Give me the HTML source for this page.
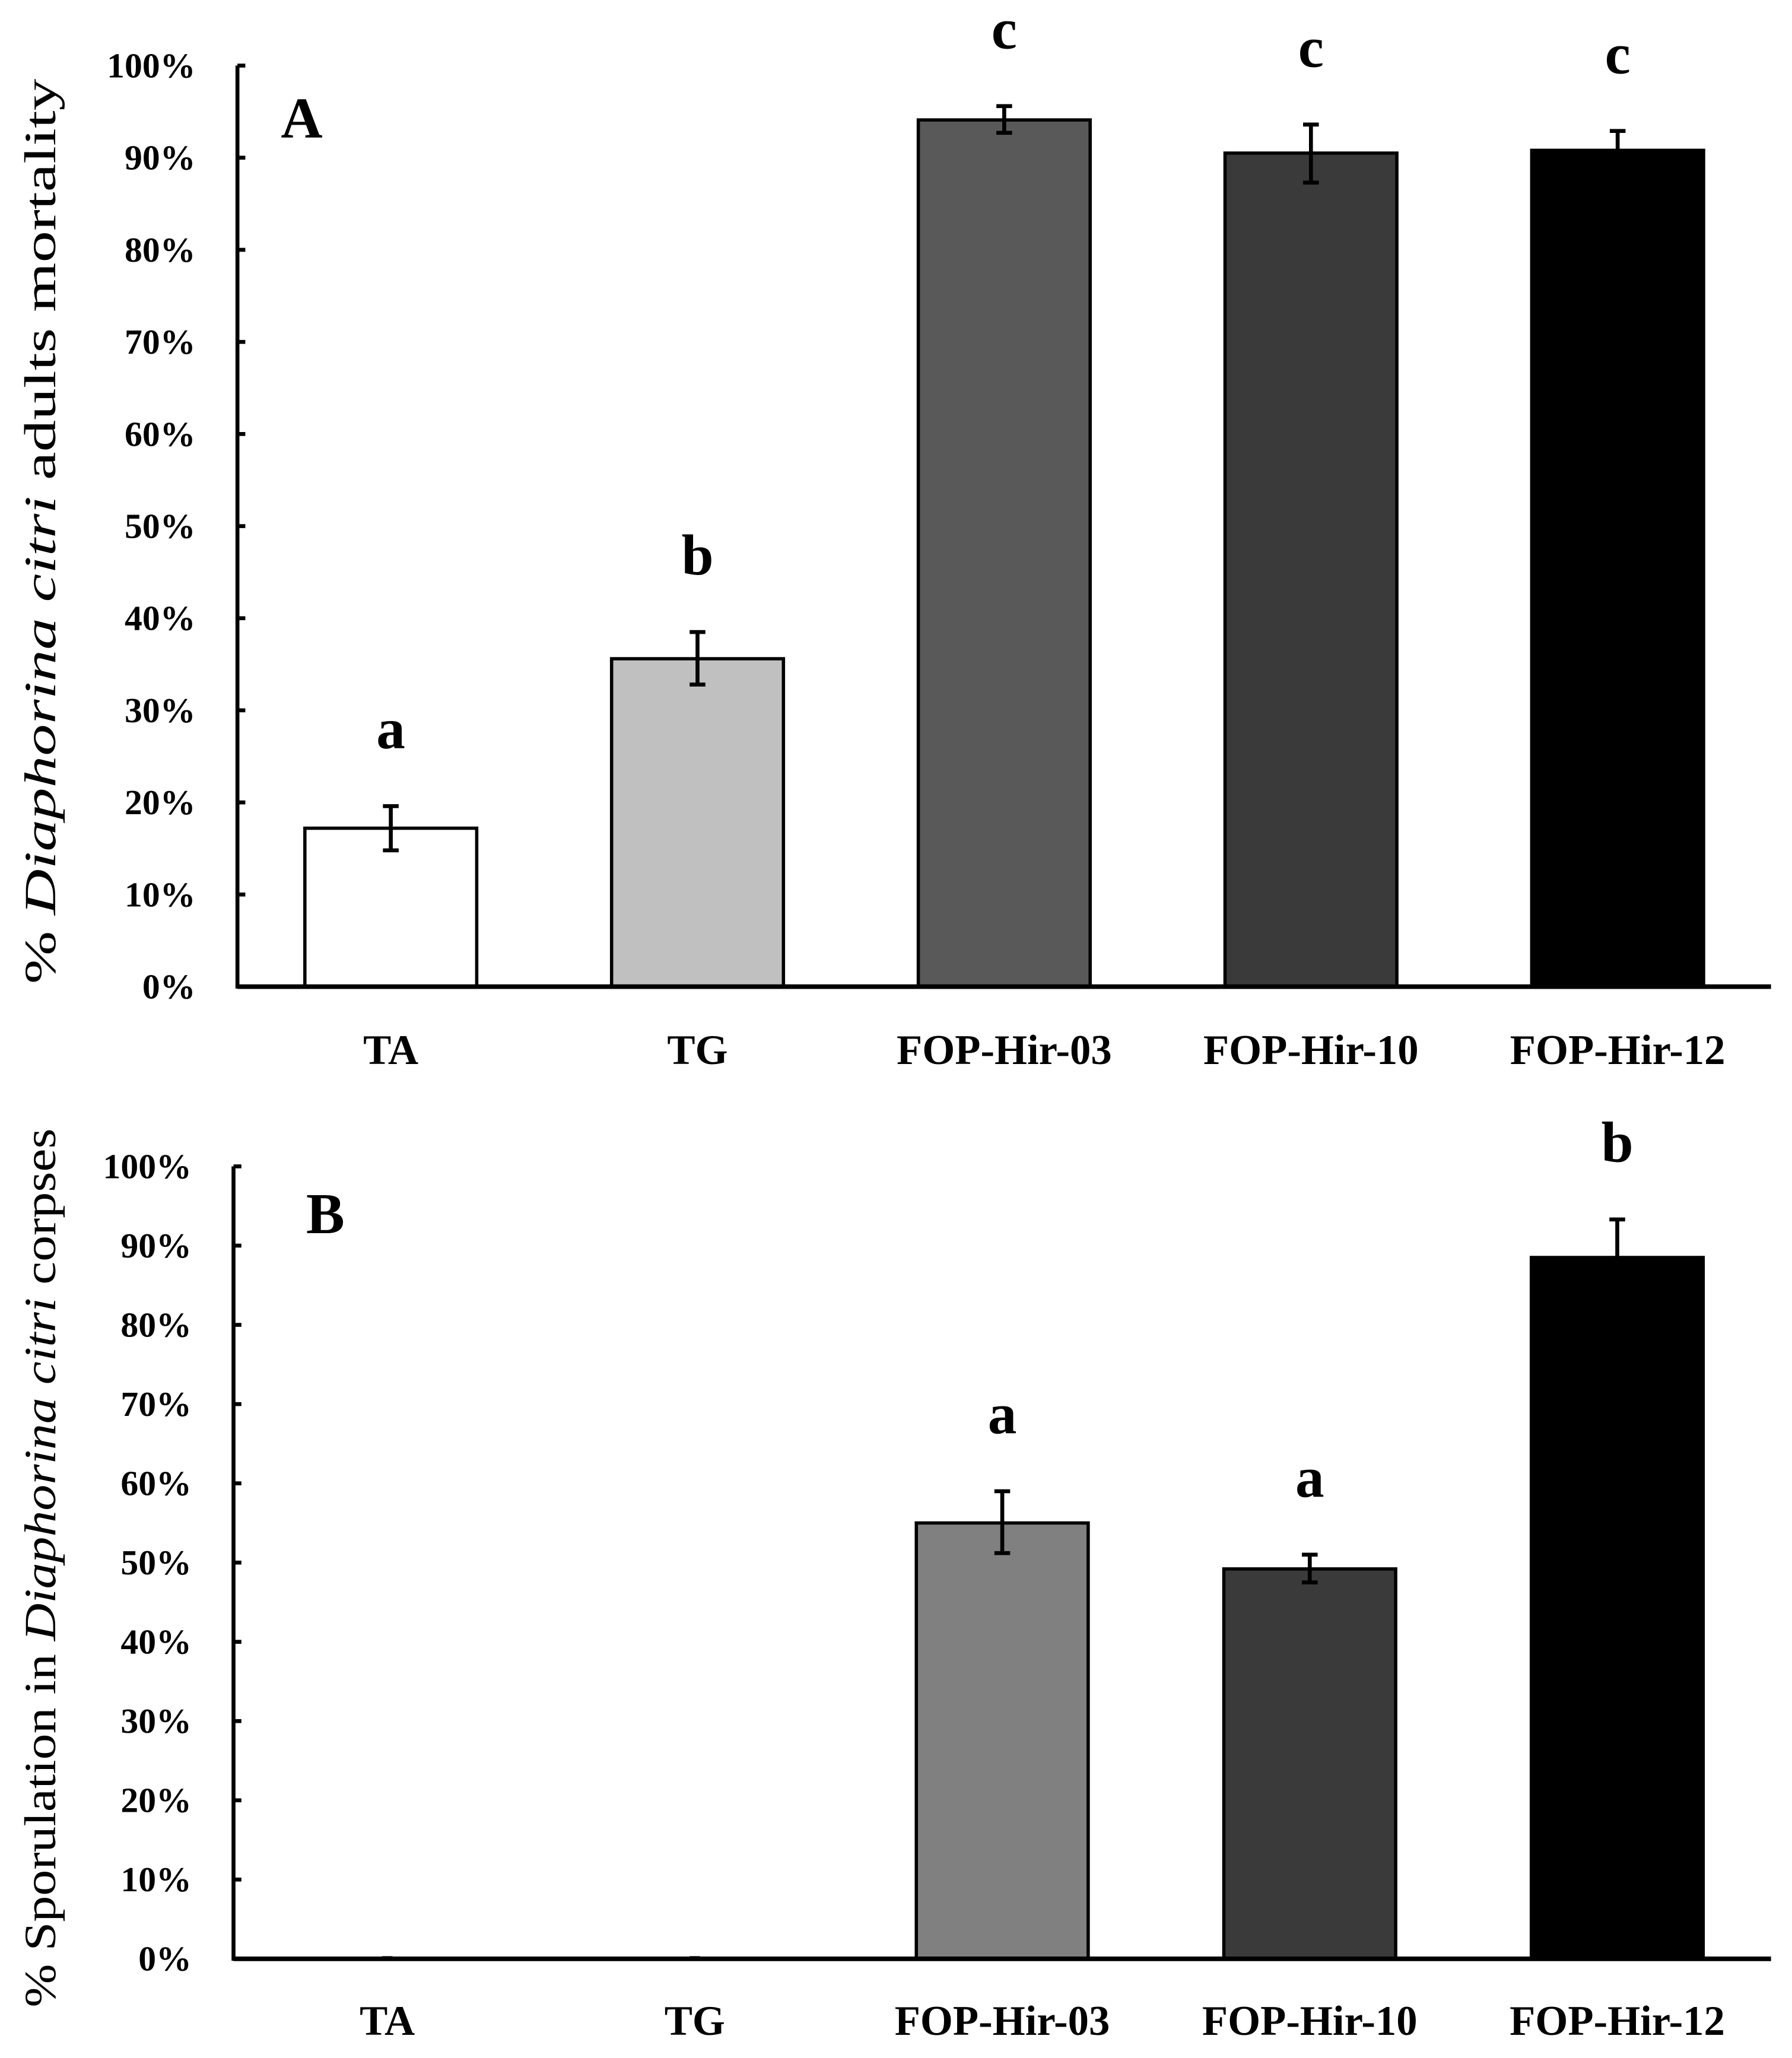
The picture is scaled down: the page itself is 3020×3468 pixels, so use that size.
<!DOCTYPE html>
<html><head><meta charset="utf-8"><style>
html,body{margin:0;padding:0;background:#fff;}
svg{display:block;}
text{font-family:"Liberation Serif",serif;font-weight:bold;fill:#000;}
</style></head><body>
<svg id="fig" width="3020" height="3468" viewBox="0 0 1366 1568.6" preserveAspectRatio="none" xmlns="http://www.w3.org/2000/svg"></svg>
<script>
const categories = ["TA","TG","FOP-Hir-03","FOP-Hir-10","FOP-Hir-12"];
const valuesA = [17.2, 35.6, 94.1, 90.5, 90.8];
const errLoA = [14.8, 32.8, 92.7, 87.3, 88.6];
const errHiA = [19.6, 38.5, 95.6, 93.6, 92.9];
const lettersA = ["a","b","c","c","c"];
const valuesB = [0, 0, 55.0, 49.2, 88.5];
const errLoB = [0, 0, 51.2, 47.5, 83.5];
const errHiB = [0, 0, 59.0, 51.0, 93.3];
const lettersB = ["", "", "a","a","b"];
const yTicks = [0,10,20,30,40,50,60,70,80,90,100];
const fillsA = ["#ffffff","#c0c0c0","#595959","#3a3a3a","#000000"];
const fillsB = ["#ffffff","#ffffff","#808080","#3a3a3a","#000000"];

const NS = "http://www.w3.org/2000/svg";
const svg = document.getElementById("fig");
function mk(tag, attrs, parent){
  const e = document.createElementNS(NS, tag);
  for (const k in attrs) e.setAttribute(k, attrs[k]);
  (parent||svg).appendChild(e);
  return e;
}
function panel(cfg){
  const g = mk("g", {});
  
  
  const y = v => cfg.y0 + (cfg.y100 - cfg.y0) * v / 100;
  const step = (cfg.xEnd - cfg.xAxis) / categories.length;
  const cx = i => cfg.xAxis + step * (i + 0.5);
  yTicks.forEach(t => {
    const tk = mk("line", {x1:cfg.xAxis, x2:cfg.xAxis+6, y1:y(t), y2:y(t), stroke:"#000", "stroke-width":3}, g);
    
    
    const lb = mk("text", {x:cfg.xAxis-32, y:y(t)+9, "text-anchor":"end", "font-size":27}, g);
    lb.textContent = t + "%";
    
    
  });
  categories.forEach((c, i) => {
    const v = cfg.values[i];
    const w = 131;
    if (v > 0) {
      const r = mk("rect", {x:cx(i)-w/2, y:y(v), width:w, height:y(0)-y(v), fill:cfg.fills[i], stroke:"#000", "stroke-width":2.5}, g);
      
      
      const lo = y(cfg.lo[i]), hi = y(cfg.hi[i]);
      const eb = mk("path", {d:`M${cx(i)} ${lo}V${hi}M${cx(i)-6} ${lo}H${cx(i)+6}M${cx(i)-6} ${hi}H${cx(i)+6}`, stroke:"#000", "stroke-width":3, fill:"none"}, g);
      
      
    } else {
      const z = mk("line", {x1:cx(i)-4, x2:cx(i)+4, y1:y(0)-1, y2:y(0)-1, stroke:"#000", "stroke-width":2}, g);
      
      
    }
    if (cfg.letters[i]) {
      const l = mk("text", {x:cx(i), y:y(cfg.hi[i]) - 44, "text-anchor":"middle", "font-size":44}, g);
      l.textContent = cfg.letters[i];
      
      
    }
    const xl = mk("text", {x:cx(i), y:cfg.labelY, "text-anchor":"middle", "font-size":32}, g);
    xl.textContent = c;
    
    
  });
  const ya = mk("line", {x1:cfg.xAxis, x2:cfg.xAxis, y1:cfg.y100, y2:y(0)+1.5, stroke:"#000", "stroke-width":3}, g);
  
  
  const xa = mk("line", {x1:cfg.xAxis, x2:cfg.xEnd, y1:y(0), y2:y(0), stroke:"#000", "stroke-width":3.5}, g);
  
  
  const pl = mk("text", {x:cfg.pX, y:cfg.pY, "text-anchor":"middle", "font-size":44}, g);
  pl.textContent = cfg.panel;
  
  
  const yt = mk("text", {x:0, y:0, "text-anchor":"middle", "font-size":34, textLength:cfg.titleLen, lengthAdjust:"spacingAndGlyphs", transform:`translate(${cfg.titleX},${cfg.titleY}) rotate(-90)`, style:"font-weight:normal"}, g);
  yt.innerHTML = cfg.title;
  
  
}
panel({name:"panel-a", panel:"A", values:valuesA, lo:errLoA, hi:errHiA, letters:lettersA, fills:fillsA,
  xAxis:181, xEnd:1350, y0:752, y100:50, labelY:811, pX:230, pY:105, titleX:42, titleY:405, titleLen:690,
  title:'% <tspan font-style="italic">Diaphorina citri</tspan> adults mortality'});
panel({name:"panel-b", panel:"B", values:valuesB, lo:errLoB, hi:errHiB, letters:lettersB, fills:fillsB,
  xAxis:178, xEnd:1350, y0:1493, y100:889, labelY:1551, pX:248, pY:940, titleX:42, titleY:1195, titleLen:670,
  title:'% Sporulation in <tspan font-style="italic">Diaphorina citri</tspan> corpses'});
</script>
</body></html>
